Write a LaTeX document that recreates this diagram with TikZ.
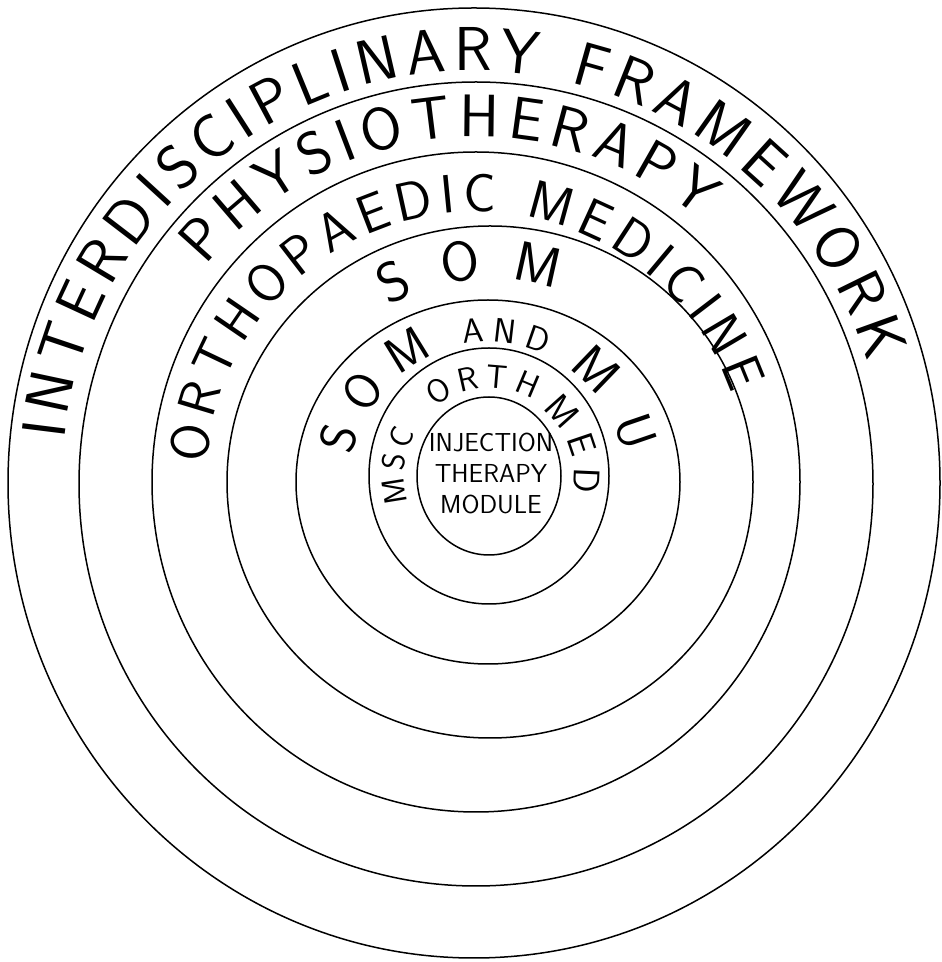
\documentclass[tikz,border=0pt]{standalone}
\usetikzlibrary{decorations.text}
\begin{document}
\begin{tikzpicture}[
  x=1pt, y=1pt,
  ring/.style={draw, line width=1.5pt},
  ringtext/.style 2 args={decorate, decoration={text along path, text align={fit to path}, text={|\sffamily\fontsize{#1}{#1}\selectfont|#2}}}
]
  \useasboundingbox (0,0) rectangle (942,962);

  % Centres
  \coordinate (c1) at (474,479);
  \coordinate (c2) at (476,478);
  \coordinate (c3) at (476,480);
  \coordinate (c4) at (490,480);
  \coordinate (c5) at (488,480);
  \coordinate (c6) at (489,486);
  \coordinate (c7) at (489,486);

  % Rings
  \draw[ring] (c1) ellipse [x radius=466, y radius=475];
  \draw[ring] (c2) ellipse [x radius=397, y radius=402];
  \draw[ring] (c3) ellipse [x radius=324, y radius=330];
  \draw[ring] (c4) ellipse [x radius=263, y radius=256];
  \draw[ring] (c5) ellipse [x radius=192, y radius=182];
  \draw[ring] (c6) ellipse [x radius=120, y radius=128];
  \draw[ring] (c7) ellipse [x radius=72, y radius=79];

  % Interdisciplinary framework
  \path[ringtext={62}{INTERDISCIPLINARY FRAMEWORK}] ([shift={(174:412)}]c1) arc[start angle=174, end angle=17, radius=412];

  % Physiotherapy
  \path[ringtext={60}{PHYSIOTHERAPY}] ([shift={(141:347)}]c2) arc[start angle=141, end angle=50, radius=347];

  % Orthopaedic medicine
  \path[ringtext={54}{ORTHOPAEDIC MEDICINE}] ([shift={(176:270)}]c3) arc[start angle=176, end angle=19, radius=270];

  % SOM
  \path[ringtext={56}{SOM}] ([shift={(120:203)}]c4) arc[start angle=120, end angle=71, radius=203];

  % SOM and MU
  \path[ringtext={50}{SOM}] ([shift={(169:138)}]c5) arc[start angle=169, end angle=113, radius=138];
  \path[ringtext={34}{AND}] ([shift={(100:140)}]c5) arc[start angle=100, end angle=66, radius=140];
  \path[ringtext={52}{MU}] ([shift={(55:138)}]c5) arc[start angle=55, end angle=12, radius=138];

  % MSc Orth Med
  \path[ringtext={32}{MSC}] ([shift={(198:85)}]c6) arc[start angle=198, end angle=150, radius=85];
  \path[ringtext={33}{ORTH}] ([shift={(128:88)}]c6) arc[start angle=128, end angle=60, radius=88];
  \path[ringtext={37}{MED}] ([shift={(52:85)}]c6) arc[start angle=52, end angle=-11, radius=85];

  % Module
  \node[font=\sffamily\fontsize{26}{31}\selectfont, align=center] (core) at (491,489) {INJECTION\\THERAPY\\MODULE};
\end{tikzpicture}
\end{document}
